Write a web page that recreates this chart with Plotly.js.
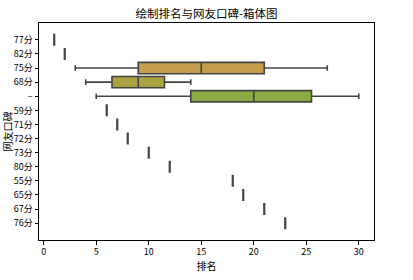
<!DOCTYPE html>
<html>
<head>
<meta charset="utf-8">
<script src="https://cdn.plot.ly/plotly-3.0.1.min.js"></script>
<style>html,body{margin:0;padding:0;background:#fff;}#chart{width:413px;height:280px;}</style>
</head>
<body>
<div id="chart"></div>
<script>
var categories = ["77分","82分","75分","68分","–","59分","71分","72分","73分","80分","55分","65分","67分","76分"];
var lowerFence = [1, 2, 3, 4, 5, 6, 7, 8, 10, 12, 18, 19, 21, 23];
var q1Values   = [1, 2, 9, 6.5, 14, 6, 7, 8, 10, 12, 18, 19, 21, 23];
var medians    = [1, 2, 15, 9, 20, 6, 7, 8, 10, 12, 18, 19, 21, 23];
var q3Values   = [1, 2, 21, 11.5, 25.5, 6, 7, 8, 10, 12, 18, 19, 21, 23];
var upperFence = [1, 2, 27, 14, 30, 6, 7, 8, 10, 12, 18, 19, 21, 23];
var boxColors  = ["#d98e8e","#d49a6e","#c49c4c","#aba340","#8aac43","#4fb070","#4fae96","#50aab0","#52a6c4","#6b9fd6","#9896d8","#bf8ad4","#d386c2","#d98aa4"];

var traces = categories.map(function(c, i){
  var single = (q1Values[i] === q3Values[i]);
  return {
    type: 'box', orientation: 'h',
    y: [c], q1: [q1Values[i]], median: [medians[i]], q3: [q3Values[i]],
    lowerfence: [lowerFence[i]], upperfence: [upperFence[i]],
    width: single ? 0.85 : 0.8, whiskerwidth: 0.5,
    fillcolor: boxColors[i],
    line: {color: '#444444', width: single ? 2.2 : 1.6},
    boxpoints: false, showlegend: false, hoverinfo: 'skip'
  };
});

var layout = {
  width: 413, height: 280,
  margin: {l: 39, r: 39, t: 23, b: 40},
  paper_bgcolor: '#fff', plot_bgcolor: '#fff',
  font: {family: '"Noto Sans CJK SC", "DejaVu Sans", sans-serif', size: 10, color: '#000'},
  title: {text: '绘制排名与网友口碑-箱体图', font: {size: 11.5, color: '#000'}, x: 0.5, xanchor: 'center', y: 0.95, yanchor: 'middle', yref: 'container'},
  boxmode: 'overlay',
  xaxis: {
    range: [-0.45, 31.45], tickvals: [0,5,10,15,20,25,30], ticktext: ['0','5','10','15','20','25','30'],
    showgrid: false, zeroline: false, showline: true, mirror: true, linecolor: '#000', linewidth: 1,
    ticks: 'outside', ticklen: 3.5, tickcolor: '#000', tickfont: {size: 9},
    title: {text: '排名', font: {size: 10}, standoff: 1}
  },
  yaxis: {
    type: 'category', categoryorder: 'array', categoryarray: categories,
    autorange: 'reversed',
    showgrid: false, zeroline: false, showline: true, mirror: true, linecolor: '#000', linewidth: 1,
    ticks: 'outside', ticklen: 3.5, tickcolor: '#000', tickfont: {size: 9},
    title: {text: '网友口碑', font: {size: 10}, standoff: 2}
  }
};

Plotly.newPlot('chart', traces, layout, {displayModeBar: false, staticPlot: true});
</script>
</body>
</html>
